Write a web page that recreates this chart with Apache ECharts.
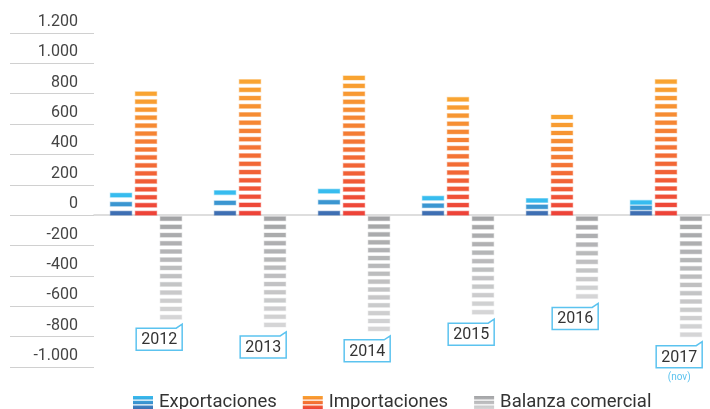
<!DOCTYPE html>
<html>
<head>
<meta charset="utf-8">
<script src="https://cdn.jsdelivr.net/npm/echarts@6/dist/echarts.min.js"></script>
<style>
  html, body { margin: 0; padding: 0; background: #fff; }
  #chart { width: 710px; height: 409px; }
</style>
</head>
<body>
<div id="chart"></div>
<script>
const years = ['2012', '2013', '2014', '2015', '2016', '2017'];
const yearNotes = ['', '', '', '', '', '(nov)'];
const exportaciones = [145, 162, 171, 125, 110, 97];
const importaciones = [813, 893, 917, 776, 660, 893];
const balanza = [-685, -736, -762, -652, -548, -800];
const seriesNames = ['Exportaciones', 'Importaciones', 'Balanza comercial'];

// stripe colours: [outer end, next to zero]
const stripeColors = [
  ['#37bcef', '#3e6fb3'],
  ['#f9a431', '#ee4338'],
  ['#d5d5d6', '#a3a4a6']
];
const boxColor = '#5cc3ef';
const textColor = '#333333';
const fontFamily = 'Roboto, "Noto Sans", sans-serif';

function hexToRgb(hex) {
  const n = parseInt(hex.slice(1), 16);
  return [(n >> 16) & 255, (n >> 8) & 255, n & 255];
}

function mix(a, b, f, alpha) {
  const ca = hexToRgb(a);
  const cb = hexToRgb(b);
  const c = ca.map((v, i) => Math.round(v + (cb[i] - v) * f));
  return `rgba(${c[0]}, ${c[1]}, ${c[2]}, ${alpha === undefined ? 1 : alpha})`;
}

function formatThousands(v) {
  const s = Math.abs(v).toString().replace(/\B(?=(\d{3})+(?!\d))/g, '.');
  return (v < 0 ? '-' : '') + s;
}

function makeRenderItem(seriesIdx) {
  return function (params, api) {
    const cat = api.value(0);
    const val = api.value(1);
    const base = api.coord([cat, 0]);
    const end = api.coord([cat, val]);
    const band = api.size([1, 0])[0];
    const barW = band * 0.206;
    const step = band * 0.24;
    const cx = base[0] + (seriesIdx - 1) * step;
    const x0 = cx - barW / 2;
    const up = val >= 0;
    const h = Math.abs(base[1] - end[1]) - (up ? 0 : 1.5);
    const n = Math.max(3, Math.round(h / 7.8));
    const t = 4;
    const p = (h - t) / (n - 1);
    const [outer, inner] = stripeColors[seriesIdx];
    const children = [];

    for (let i = 0; i < n; i++) {
      const f = i / (n - 1);
      const y = up ? end[1] + i * p : end[1] - t - i * p;
      children.push({
        type: 'rect',
        shape: { x: x0, y: y, width: barW, height: t },
        style: { fill: mix(outer, inner, f), stroke: mix(outer, inner, f, 0.35), lineWidth: 1.2 }
      });
    }

    if (seriesIdx === 2) {
      const right = x0 + barW + 0.5;
      const boxW = 46;
      const boxH = 22;
      const left = right - boxW;
      const top = end[1] + 9;
      const bottom = top + boxH;
      children.push({
        type: 'polygon',
        shape: { points: [[left, top], [right - 6, top], [right, top - 4], [right, bottom], [left, bottom]] },
        style: { fill: '#fff', stroke: boxColor, lineWidth: 1.5 }
      });
      children.push({
        type: 'text',
        style: {
          x: left + boxW / 2, y: top + boxH / 2 + 1,
          text: years[params.dataIndex],
          fill: textColor, fontSize: 16, fontFamily: fontFamily,
          align: 'center', verticalAlign: 'middle'
        }
      });
      const note = yearNotes[params.dataIndex];
      if (note) {
        children.push({
          type: 'text',
          style: {
            x: left + boxW / 2, y: bottom + 10,
            text: note, fill: boxColor, fontSize: 10, fontFamily: fontFamily,
            align: 'center', verticalAlign: 'middle'
          }
        });
      }
    }
    return { type: 'group', children: children };
  };
}

const legendIcon = 'path://M0,0H20V3.4H0Z M0,4.8H20V8.2H0Z M0,9.6H20V13H0Z';

const chart = echarts.init(document.getElementById('chart'), null, { renderer: 'canvas' });
const seriesData = [exportaciones, importaciones, balanza];

chart.setOption({
  animation: false,
  backgroundColor: '#fff',
  textStyle: { fontFamily: fontFamily },
  grid: { left: 94, top: 33, width: 624, bottom: 42, outerBoundsMode: 'none', containLabel: false },
  legend: {
    left: 128,
    top: 388,
    itemWidth: 22,
    itemHeight: 13,
    itemGap: 26,
    textStyle: { fontSize: 18.5, color: textColor, fontFamily: fontFamily },
    data: seriesNames.map((name) => ({ name: name, icon: legendIcon }))
  },
  xAxis: {
    type: 'category',
    data: years,
    axisLabel: { show: false },
    axisTick: { show: false },
    axisLine: { onZero: true, lineStyle: { color: '#d3d3d3', width: 1.5 } },
    splitLine: { show: false }
  },
  yAxis: {
    type: 'value',
    min: -1000,
    max: 1200,
    interval: 200,
    axisLine: { show: false },
    axisTick: { show: true, length: 84, lineStyle: { color: '#d0d0d0', width: 1 } },
    splitLine: { show: false },
    axisLabel: {
      margin: 16,
      fontSize: 16,
      color: '#444',
      fontFamily: fontFamily,
      verticalAlign: 'bottom',
      padding: [0, 0, 3, 0],
      formatter: formatThousands
    }
  },
  series: seriesNames.map((name, idx) => ({
    name: name,
    type: 'custom',
    clip: false,
    renderItem: makeRenderItem(idx),
    itemStyle: {
      color: new echarts.graphic.LinearGradient(0, 0, 0, 1, [
        { offset: 0, color: stripeColors[idx][idx === 2 ? 1 : 0] },
        { offset: 1, color: stripeColors[idx][idx === 2 ? 0 : 1] }
      ])
    },
    encode: { x: 0, y: 1 },
    data: seriesData[idx].map((v, i) => [i, v])
  }))
});
</script>
</body>
</html>
